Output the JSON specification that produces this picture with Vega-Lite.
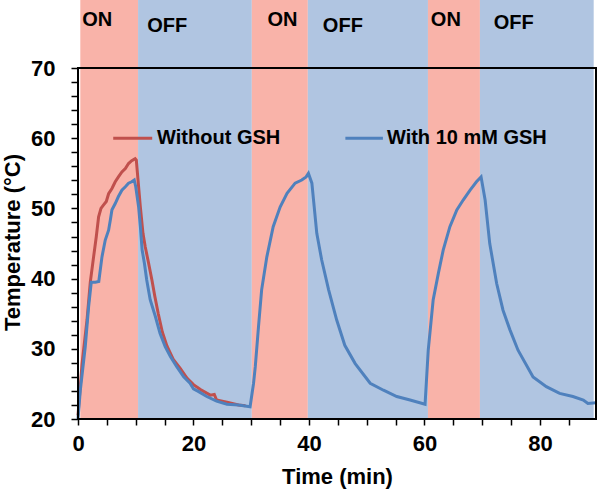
{
  "$schema": "https://vega.github.io/schema/vega-lite/v6.json",
  "width": 518,
  "height": 419,
  "autosize": "none",
  "padding": {"left": 78, "top": 0, "right": 4, "bottom": 72},
  "background": "white",
  "config": {"view": {"stroke": null}, "font": "Liberation Sans"},
  "resolve": {"axis": {"x": "independent", "y": "independent"}},
  "datasets": {
    "bands": [
      {"state": "ON", "start": 0.4, "end": 10.4, "lo": 20, "hi": 79.7},
      {"state": "OFF", "start": 10.4, "end": 30.1, "lo": 20, "hi": 79.7},
      {"state": "ON", "start": 30.1, "end": 39.8, "lo": 20, "hi": 79.7},
      {"state": "OFF", "start": 39.8, "end": 60.6, "lo": 20, "hi": 79.7},
      {"state": "ON", "start": 60.6, "end": 69.6, "lo": 20, "hi": 79.7},
      {"state": "OFF", "start": 69.6, "end": 89.3, "lo": 20, "hi": 79.7}
    ],
    "labels": [
      {"label": "ON", "t": 0.74, "v": 76.85},
      {"label": "OFF", "t": 12.0, "v": 76.0},
      {"label": "ON", "t": 32.8, "v": 76.85},
      {"label": "OFF", "t": 42.4, "v": 76.0},
      {"label": "ON", "t": 61.1, "v": 76.85},
      {"label": "OFF", "t": 72.0, "v": 76.4}
    ],
    "red": [
      {"t": 0, "v": 20.5}, {"t": 0.7, "v": 27.9}, {"t": 1.56, "v": 34.1}, {"t": 2.13, "v": 39.5},
      {"t": 2.7, "v": 43.1}, {"t": 3.17, "v": 46.0}, {"t": 3.57, "v": 48.8}, {"t": 3.98, "v": 50.0},
      {"t": 4.43, "v": 50.5}, {"t": 4.9, "v": 51.0}, {"t": 5.3, "v": 52.1}, {"t": 5.88, "v": 52.85},
      {"t": 6.45, "v": 53.8}, {"t": 7.0, "v": 54.5}, {"t": 7.6, "v": 55.2}, {"t": 8.2, "v": 55.7},
      {"t": 8.75, "v": 56.4}, {"t": 9.3, "v": 56.8}, {"t": 9.9, "v": 57.1}, {"t": 10.1, "v": 56.9},
      {"t": 10.4, "v": 54.0}, {"t": 10.8, "v": 50.2}, {"t": 11.25, "v": 46.45}, {"t": 11.65, "v": 44.5},
      {"t": 12.2, "v": 42.3}, {"t": 12.8, "v": 39.8}, {"t": 13.3, "v": 37.5}, {"t": 13.9, "v": 35.0},
      {"t": 14.6, "v": 32.4}, {"t": 15.4, "v": 30.4}, {"t": 16.5, "v": 28.5}, {"t": 17.7, "v": 27.2},
      {"t": 18.9, "v": 25.8}, {"t": 20.0, "v": 24.9}, {"t": 21.2, "v": 24.2}, {"t": 22.9, "v": 23.4},
      {"t": 23.6, "v": 23.5}, {"t": 24.0, "v": 22.7}, {"t": 25.8, "v": 22.4}, {"t": 27.8, "v": 22.0},
      {"t": 29.0, "v": 21.9}
    ],
    "blue": [
      {"t": 0, "v": 20.0}, {"t": 0.4, "v": 24.1}, {"t": 1.26, "v": 30.3}, {"t": 1.84, "v": 36.0},
      {"t": 2.3, "v": 39.5}, {"t": 3.0, "v": 39.5}, {"t": 3.6, "v": 39.6}, {"t": 4.15, "v": 43.1},
      {"t": 4.72, "v": 45.5}, {"t": 5.3, "v": 46.9}, {"t": 5.6, "v": 48.35}, {"t": 5.88, "v": 49.8},
      {"t": 6.45, "v": 50.7}, {"t": 7.0, "v": 51.7}, {"t": 7.6, "v": 52.6}, {"t": 8.2, "v": 53.1},
      {"t": 8.75, "v": 53.6}, {"t": 9.3, "v": 53.8}, {"t": 9.74, "v": 54.05}, {"t": 10.0, "v": 53.1},
      {"t": 10.5, "v": 50.2}, {"t": 10.8, "v": 47.4}, {"t": 11.1, "v": 44.1}, {"t": 11.5, "v": 42.2},
      {"t": 11.9, "v": 39.8}, {"t": 12.5, "v": 37.0}, {"t": 13.4, "v": 34.6}, {"t": 14.2, "v": 32.2},
      {"t": 15.1, "v": 30.3}, {"t": 16.0, "v": 28.9}, {"t": 17.1, "v": 27.45}, {"t": 18.3, "v": 26.0},
      {"t": 19.4, "v": 25.1}, {"t": 20.0, "v": 24.3}, {"t": 20.9, "v": 23.9}, {"t": 22.3, "v": 23.2},
      {"t": 24.0, "v": 22.55}, {"t": 25.8, "v": 22.1}, {"t": 27.8, "v": 22.0}, {"t": 29.8, "v": 21.75},
      {"t": 30.4, "v": 25.1}, {"t": 30.7, "v": 27.45}, {"t": 31.25, "v": 33.1}, {"t": 31.8, "v": 38.4},
      {"t": 32.7, "v": 43.1}, {"t": 33.8, "v": 47.4}, {"t": 35.0, "v": 50.2}, {"t": 36.2, "v": 52.15},
      {"t": 37.6, "v": 53.6}, {"t": 38.75, "v": 54.05}, {"t": 39.5, "v": 54.5}, {"t": 39.9, "v": 55.0},
      {"t": 40.5, "v": 53.6}, {"t": 41.35, "v": 46.45}, {"t": 42.2, "v": 42.65}, {"t": 43.4, "v": 38.4},
      {"t": 44.8, "v": 34.1}, {"t": 46.2, "v": 30.5}, {"t": 48.0, "v": 27.9}, {"t": 50.6, "v": 25.1},
      {"t": 52.9, "v": 24.1}, {"t": 55.2, "v": 23.2}, {"t": 57.5, "v": 22.7}, {"t": 60.1, "v": 22.1},
      {"t": 60.65, "v": 29.8}, {"t": 61.5, "v": 36.95}, {"t": 62.4, "v": 40.75}, {"t": 63.25, "v": 44.1},
      {"t": 64.4, "v": 47.4}, {"t": 65.6, "v": 49.8}, {"t": 66.7, "v": 51.2}, {"t": 67.9, "v": 52.6},
      {"t": 69.0, "v": 53.8}, {"t": 69.8, "v": 54.5}, {"t": 70.5, "v": 51.2}, {"t": 71.3, "v": 45.0},
      {"t": 72.5, "v": 39.3}, {"t": 73.6, "v": 35.5}, {"t": 74.8, "v": 32.7}, {"t": 76.2, "v": 29.8},
      {"t": 78.8, "v": 26.0}, {"t": 81.1, "v": 24.6}, {"t": 83.4, "v": 23.65}, {"t": 85.7, "v": 23.2},
      {"t": 87.5, "v": 22.7}, {"t": 88.3, "v": 22.2}, {"t": 89.7, "v": 22.3}
    ],
    "legend": [
      {"series": "Without GSH", "x1": 6.1, "x2": 12.85, "tx": 13.7, "v": 60.0},
      {"series": "With 10 mM GSH", "x1": 46.3, "x2": 52.8, "tx": 53.5, "v": 60.0}
    ],
    "frame": [
      {"xa": 0, "xb": 89.7, "ya": 70, "yb": 70},
      {"xa": 0, "xb": 89.7, "ya": 20, "yb": 20},
      {"xa": 0, "xb": 0, "ya": 20, "yb": 70},
      {"xa": 89.7, "xb": 89.7, "ya": 20, "yb": 70}
    ]
  },
  "layer": [
    {
      "data": {"name": "bands"},
      "mark": {"type": "rect"},
      "encoding": {
        "x": {
          "field": "start", "type": "quantitative",
          "scale": {"domain": [0, 89.7], "nice": false, "zero": false},
          "axis": {
            "orient": "bottom",
            "values": [5, 10, 15, 25, 30, 35, 45, 50, 55, 65, 70, 75, 85],
            "labels": false, "title": null,
            "grid": false, "domain": false,
            "tickColor": "black", "tickSize": 6, "tickWidth": 1.5
          }
        },
        "x2": {"field": "end"},
        "y": {
          "field": "lo", "type": "quantitative",
          "scale": {"domain": [20, 79.7], "nice": false, "zero": false},
          "axis": {
            "orient": "left",
            "values": [22, 24, 26, 28, 32, 34, 36, 38, 42, 44, 46, 48, 52, 54, 56, 58, 62, 64, 66, 68],
            "labels": false, "title": null,
            "grid": false, "domain": false,
            "tickColor": "black", "tickSize": 7, "tickWidth": 1.5
          }
        },
        "y2": {"field": "hi"},
        "fill": {
          "field": "state", "type": "nominal",
          "scale": {"domain": ["ON", "OFF"], "range": ["#F9B3A9", "#B0C5E1"]},
          "legend": null
        }
      }
    },
    {
      "data": {"name": "labels"},
      "mark": {"type": "text", "align": "left", "baseline": "middle", "font": "Liberation Sans", "fontSize": 20, "fontWeight": "bold", "color": "black"},
      "encoding": {
        "x": {
          "field": "t", "type": "quantitative",
          "axis": {
            "orient": "bottom",
            "values": [0, 20, 40, 60, 80],
            "title": "Time (min)",
            "grid": false, "domain": false,
            "tickColor": "black", "tickSize": 6, "tickWidth": 1.5,
            "labelFont": "Liberation Sans", "labelFontSize": 22, "labelFontWeight": "bold", "labelColor": "black",
            "labelPadding": 8, "labelFlush": false, "labelOverlap": false,
            "titleFont": "Liberation Sans", "titleFontSize": 22, "titleFontWeight": "bold", "titleColor": "black",
            "titlePadding": 12
          }
        },
        "y": {
          "field": "v", "type": "quantitative",
          "axis": {
            "orient": "left",
            "values": [20, 30, 40, 50, 60, 70],
            "title": "Temperature (°C)",
            "grid": false, "domain": false,
            "tickColor": "black", "tickSize": 7, "tickWidth": 1.5,
            "labelFont": "Liberation Sans", "labelFontSize": 22, "labelFontWeight": "bold", "labelColor": "black",
            "labelPadding": 16, "labelFlush": false, "labelOverlap": false,
            "titleFont": "Liberation Sans", "titleFontSize": 22, "titleFontWeight": "bold", "titleColor": "black",
            "titleX": -66, "titleY": 242, "titleAngle": -90, "titleAlign": "center", "titleBaseline": "middle"
          }
        },
        "text": {"field": "label"}
      }
    },
    {
      "data": {"name": "red"},
      "mark": {"type": "line", "color": "#C0504D", "strokeWidth": 3},
      "encoding": {
        "x": {"field": "t", "type": "quantitative", "axis": null},
        "y": {"field": "v", "type": "quantitative", "axis": null}
      }
    },
    {
      "data": {"name": "blue"},
      "mark": {"type": "line", "color": "#4F81BD", "strokeWidth": 3},
      "encoding": {
        "x": {"field": "t", "type": "quantitative", "axis": null},
        "y": {"field": "v", "type": "quantitative", "axis": null}
      }
    },
    {
      "data": {"name": "legend"},
      "mark": {"type": "rule", "strokeWidth": 3},
      "encoding": {
        "x": {"field": "x1", "type": "quantitative", "axis": null},
        "x2": {"field": "x2"},
        "y": {"field": "v", "type": "quantitative", "axis": null},
        "stroke": {
          "field": "series", "type": "nominal",
          "scale": {"domain": ["Without GSH", "With 10 mM GSH"], "range": ["#C0504D", "#4F81BD"]},
          "legend": null
        }
      }
    },
    {
      "data": {"name": "legend"},
      "mark": {"type": "text", "align": "left", "baseline": "middle", "font": "Liberation Sans", "fontSize": 20, "fontWeight": "bold", "color": "black"},
      "encoding": {
        "x": {"field": "tx", "type": "quantitative", "axis": null},
        "y": {"field": "v", "type": "quantitative", "axis": null},
        "text": {"field": "series"}
      }
    },
    {
      "data": {"name": "frame"},
      "mark": {"type": "rule", "color": "black", "strokeWidth": 2, "strokeCap": "square"},
      "encoding": {
        "x": {"field": "xa", "type": "quantitative", "axis": null},
        "x2": {"field": "xb"},
        "y": {"field": "ya", "type": "quantitative", "axis": null},
        "y2": {"field": "yb"}
      }
    }
  ]
}
